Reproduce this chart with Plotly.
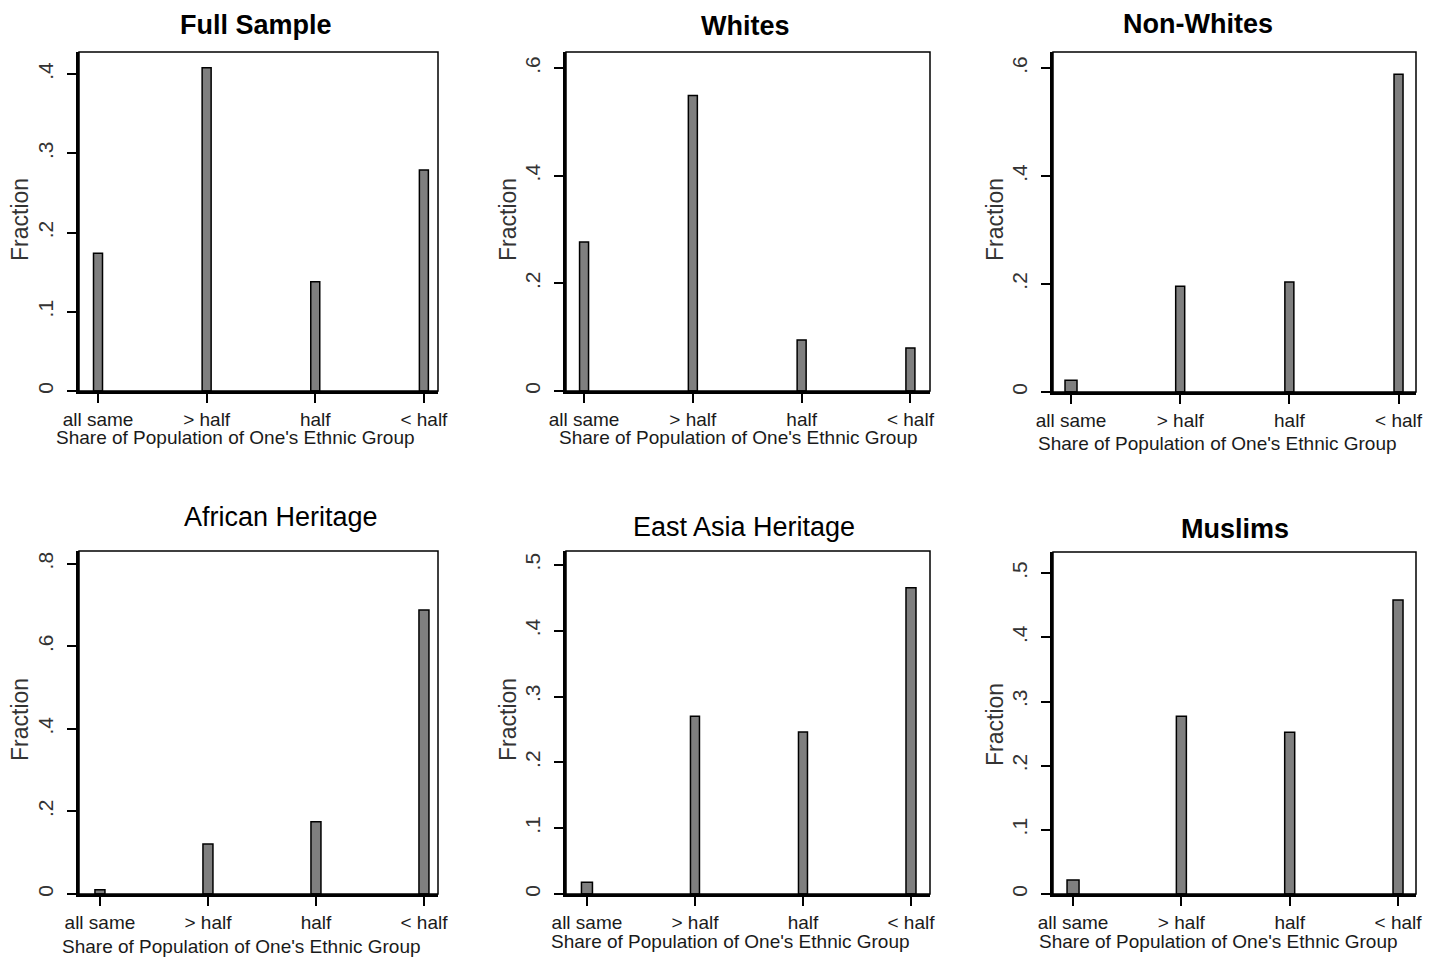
import plotly.graph_objects as go

categories = ["all same", "> half", "half", "< half"]
full_sample = [0.174, 0.408, 0.138, 0.279]
whites = [0.277, 0.549, 0.095, 0.080]
non_whites = [0.022, 0.196, 0.204, 0.589]
african = [0.010, 0.121, 0.175, 0.688]
east_asia = [0.018, 0.270, 0.246, 0.465]
muslims = [0.022, 0.277, 0.252, 0.458]

titles = ["Full Sample", "Whites", "Non-Whites", "African Heritage", "East Asia Heritage", "Muslims"]
bold_titles = [True, True, True, False, False, True]
y_ticks = [
    [0, 0.1, 0.2, 0.3, 0.4],
    [0, 0.2, 0.4, 0.6],
    [0, 0.2, 0.4, 0.6],
    [0, 0.2, 0.4, 0.6, 0.8],
    [0, 0.1, 0.2, 0.3, 0.4, 0.5],
    [0, 0.1, 0.2, 0.3, 0.4, 0.5],
]
y_tick_text = [["0" if v == 0 else ("%.1f" % v)[1:] for v in t] for t in y_ticks]
series = [full_sample, whites, non_whites, african, east_asia, muslims]

W, H = 1442, 957
OFF = 8  # page offset of the figure inside the browser window


def px(x):
    return (x - OFF) / W


def py(y):
    return 1 - (y - OFF) / H


# layout (pixels): plot boxes, axis ranges, title/label positions
boxes = [(79, 438, 52, 391), (566, 930, 52, 391), (1053, 1416, 52, 392),
         (79, 438, 551, 894), (566, 930, 551, 894), (1053, 1416, 552, 894)]
y_tops = [0.428, 0.63, 0.63, 0.831, 0.521, 0.533]
x_ranges = [(-0.175, 3.13), (-0.166, 3.18), (-0.165, 3.16),
            (-0.194, 3.13), (-0.194, 3.176), (-0.185, 3.166)]
bar_px = [[9, 9, 9, 9], [9, 9, 9, 9], [12, 9, 9, 9],
          [10, 10, 10, 10], [11, 9, 9, 10], [12, 10, 10, 10]]
title_pos = [(256, 25), (745, 26), (1198, 24), (281, 517), (744, 527), (1235, 529)]
xtitle_pos = [(235, 437), (738, 437), (1217, 443), (241, 946), (730, 941), (1218, 941)]
ytitle_pos = [(20, 220), (508, 220), (995, 220), (20, 720), (508, 720), (995, 725)]

TXT = "#1a1a1a"
FONT = "Liberation Sans, Arial, sans-serif"

fig = go.Figure()
layout = dict(width=W, height=H, margin=dict(l=0, r=0, t=0, b=0, pad=0, autoexpand=False),
              paper_bgcolor="white", plot_bgcolor="white", showlegend=False,
              font=dict(family=FONT, color=TXT))
shapes = []
annotations = []

for i in range(6):
    n = "" if i == 0 else str(i + 1)
    x0, x1, y0, y1 = boxes[i]
    unit_px = (x1 - x0) / (x_ranges[i][1] - x_ranges[i][0])
    fig.add_trace(go.Bar(
        x=categories, y=series[i], xaxis="x" + n, yaxis="y" + n,
        width=[w / unit_px for w in bar_px[i]],
        marker=dict(color="#7f7f7f", line=dict(color="black", width=1.5)),
        hoverinfo="x+y"))
    layout["xaxis" + n] = dict(
        domain=[px(x0), px(x1)], anchor="y" + n, type="category", automargin=False,
        range=list(x_ranges[i]), showgrid=False, zeroline=False,
        showline=True, linewidth=3, linecolor="black",
        ticks="outside", ticklen=9, tickwidth=1.5, tickcolor="black",
        tickfont=dict(size=19, color=TXT, family=FONT), fixedrange=True)
    layout["yaxis" + n] = dict(
        domain=[py(y1), py(y0)], anchor="x" + n, automargin=False,
        range=[0, y_tops[i]], showgrid=False, zeroline=False,
        showline=True, linewidth=3, linecolor="black",
        ticks="outside", ticklen=9, tickwidth=1.5, tickcolor="black",
        tickvals=y_ticks[i], ticktext=y_tick_text[i], tickangle=-90,
        ticklabelstandoff=6,
        tickfont=dict(size=21, color="#333333", family=FONT), fixedrange=True)
    shapes.append(dict(type="rect", xref="x" + n + " domain", yref="y" + n + " domain",
                       x0=0, x1=1, y0=0, y1=1, line=dict(color="black", width=1.5)))
    t = titles[i]
    annotations.append(dict(
        text=("<b>%s</b>" % t) if bold_titles[i] else t,
        x=px(title_pos[i][0]), y=py(title_pos[i][1]), xref="paper", yref="paper",
        xanchor="center", yanchor="middle", showarrow=False,
        font=dict(size=27 if bold_titles[i] else 27, color="black", family=FONT)))
    annotations.append(dict(
        text="Share of Population of One's Ethnic Group",
        x=px(xtitle_pos[i][0]), y=py(xtitle_pos[i][1]), xref="paper", yref="paper",
        xanchor="center", yanchor="middle", showarrow=False,
        font=dict(size=19, color=TXT, family=FONT)))
    annotations.append(dict(
        text="Fraction", textangle=-90,
        x=px(ytitle_pos[i][0]), y=py(ytitle_pos[i][1]), xref="paper", yref="paper",
        xanchor="center", yanchor="middle", showarrow=False,
        font=dict(size=23, color="#333333", family=FONT)))

layout["shapes"] = shapes
layout["annotations"] = annotations
fig.update_layout(**layout)
fig.write_html("out.html")
